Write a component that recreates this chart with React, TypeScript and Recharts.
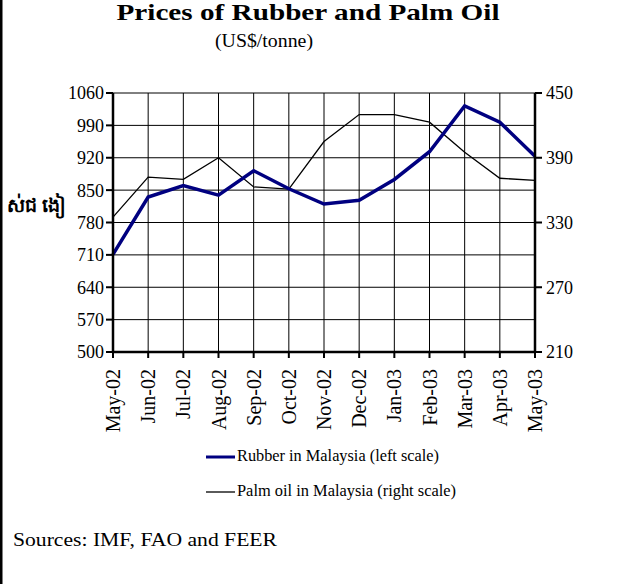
import React from "react";
import {
  LineChart,
  Line,
  XAxis,
  YAxis,
  CartesianGrid,
  Legend,
} from "recharts";

const months = [
  "May-02", "Jun-02", "Jul-02", "Aug-02", "Sep-02", "Oct-02", "Nov-02",
  "Dec-02", "Jan-03", "Feb-03", "Mar-03", "Apr-03", "May-03",
];
const rubber = [711, 835, 860, 839, 892, 853, 820, 828, 873, 933, 1032, 997, 923];
const palmOil = [335, 372, 370, 390, 363, 361, 405, 430, 430, 423, 395, 371, 369];

const leftTicks = [500, 570, 640, 710, 780, 850, 920, 990, 1060];
const rightTicks = [210, 270, 330, 390, 450];

const data = months.map((m, i) => ({
  month: m,
  rubber: rubber[i],
  palm: palmOil[i],
}));

const serif = "'Liberation Serif', 'Times New Roman', serif";

const XTick = ({ x, y, payload }: any) => (
  <text
    x={x}
    y={y}
    transform={`rotate(-90 ${x} ${y})`}
    textAnchor="end"
    dy="0.35em"
    fontSize={20}
    fontFamily={serif}
    fill="#000"
  >
    {payload.value}
  </text>
);

const LegendBox = () => (
  <svg width={300} height={70}>
    <line x1={6} x2={35} y1={17} y2={17} stroke="#000080" strokeWidth={3} />
    <text x={37} y={21} fontSize={17} fontFamily={serif} textLength={202} lengthAdjust="spacingAndGlyphs">
      Rubber in Malaysia (left scale)
    </text>
    <line x1={6} x2={35} y1={52} y2={52} stroke="#000" strokeWidth={1.3} />
    <text x={37} y={56} fontSize={17} fontFamily={serif} textLength={219} lengthAdjust="spacingAndGlyphs">
      Palm oil in Malaysia (right scale)
    </text>
  </svg>
);

export default function App() {
  return (
    <div style={{ position: "absolute", left: 0, top: 0, width: 636, height: 584, background: "#fff" }}>
      <LineChart
        width={636}
        height={584}
        data={data}
        margin={{ top: 93, right: 0, bottom: 98, left: 0 }}
      >
        <CartesianGrid yAxisId="left" stroke="#000" strokeWidth={1} />
        <XAxis
          dataKey="month"
          interval={0}
          height={64}
          tick={<XTick />}
          tickSize={6}
          tickMargin={11}
          axisLine={{ stroke: "#000", strokeWidth: 2.5 }}
          tickLine={{ stroke: "#000", strokeWidth: 2 }}
        />
        <YAxis
          yAxisId="left"
          width={113}
          domain={[500, 1060]}
          ticks={leftTicks}
          interval={0}
          tickSize={7}
          tickMargin={2}
          tick={{ fontSize: 18, fill: "#000", fontFamily: serif }}
          axisLine={{ stroke: "#000", strokeWidth: 2.5 }}
          tickLine={{ stroke: "#000", strokeWidth: 2 }}
        />
        <YAxis
          yAxisId="right"
          orientation="right"
          width={101}
          domain={[210, 450]}
          ticks={rightTicks}
          interval={0}
          tickSize={7}
          tickMargin={4}
          tick={{ fontSize: 18, fill: "#000", fontFamily: serif }}
          axisLine={{ stroke: "#000", strokeWidth: 2.5 }}
          tickLine={{ stroke: "#000", strokeWidth: 2 }}
        />
        <Line
          yAxisId="right"
          type="linear"
          dataKey="palm"
          name="Palm oil in Malaysia (right scale)"
          stroke="#000"
          strokeWidth={1.3}
          dot={false}
          isAnimationActive={false}
        />
        <Line
          yAxisId="left"
          type="linear"
          dataKey="rubber"
          name="Rubber in Malaysia (left scale)"
          stroke="#000080"
          strokeWidth={3.5}
          dot={false}
          isAnimationActive={false}
        />
        <Legend
          content={<LegendBox />}
          wrapperStyle={{ position: "absolute", left: 200, top: 440, width: 300, height: 70 }}
        />
      </LineChart>
      <svg
        width={636}
        height={584}
        style={{ position: "absolute", left: 0, top: 0, pointerEvents: "none" }}
      >
        <rect x={0} y={0} width={2.5} height={584} fill="#000" />
        <text x={308} y={20} textAnchor="middle" fontSize={24} fontWeight="bold" fontFamily={serif} textLength={383} lengthAdjust="spacingAndGlyphs">
          Prices of Rubber and Palm Oil
        </text>
        <text x={264} y={47} textAnchor="middle" fontSize={19} fontFamily={serif} textLength={98} lengthAdjust="spacingAndGlyphs">
          (US$/tonne)
        </text>
        <text x={7} y={212} fontSize={19} fontWeight="bold" fontFamily={serif}>
          ស់ជ ងៀ
        </text>
        <text x={13} y={546} fontSize={18} fontFamily={serif} textLength={264} lengthAdjust="spacingAndGlyphs">
          Sources: IMF, FAO and FEER
        </text>
      </svg>
    </div>
  );
}
